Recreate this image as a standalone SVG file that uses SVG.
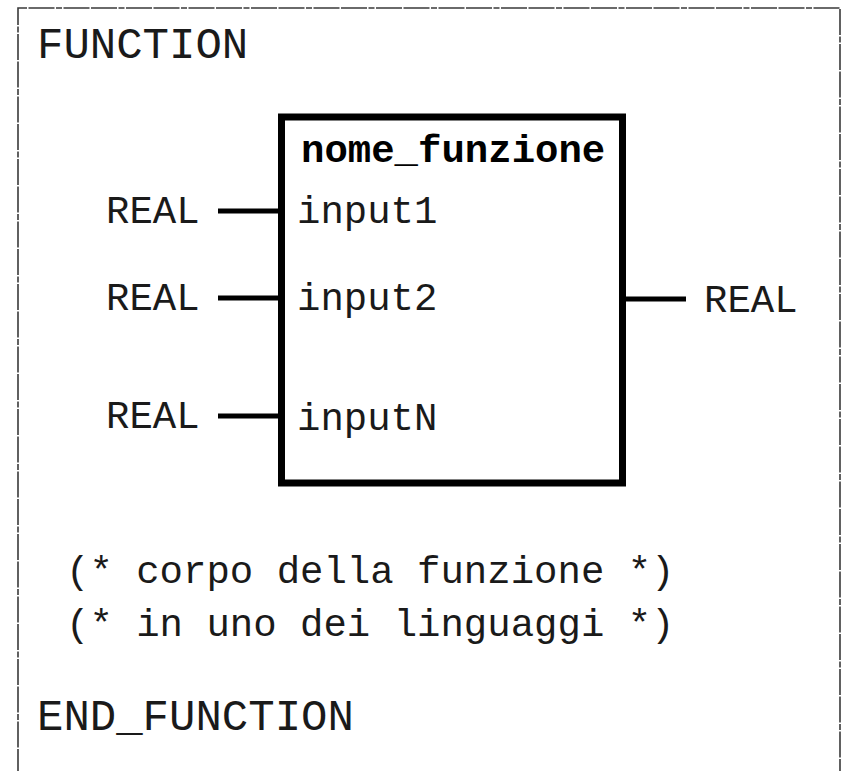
<svg xmlns="http://www.w3.org/2000/svg" width="842" height="771" viewBox="0 0 842 771">
<style>
.t{font-family:"Liberation Mono","Courier New",monospace;fill:#1a1a1a}
.big{font-size:44px}
.n{font-size:39px}
.b{font-size:39px;font-weight:bold;fill:#000}
.frame{fill:none;stroke:#3a3a3a;stroke-width:1.6;stroke-dasharray:26 1.5 26 1.5 6 1.5}
.wire{stroke:#000;stroke-width:5;fill:none}
</style>
<rect width="842" height="771" fill="#fff"/>
<path class="frame" d="M18,775 V8 H840 V775"/>
<g id="header"><text class="t big" x="37" y="58">FUNCTION</text></g>
<g id="block">
<rect x="281.5" y="117" width="341" height="366" fill="none" stroke="#000" stroke-width="7"/>
<text class="t b" x="301" y="162">nome_funzione</text>
<text class="t n" x="297" y="223">input1</text>
<text class="t n" x="297" y="310">input2</text>
<text class="t n" x="297" y="430">inputN</text>
</g>
<g id="in1"><text class="t n" x="106" y="223">REAL</text></g>
<g id="in2"><text class="t n" x="106" y="310">REAL</text></g>
<g id="inN"><text class="t n" x="106" y="428">REAL</text></g>
<g id="out"><text class="t n" x="704" y="312">REAL</text></g>
<g id="connectors">
<line class="wire" x1="218" y1="211" x2="282" y2="211"/>
<line class="wire" x1="218" y1="298" x2="282" y2="298"/>
<line class="wire" x1="218" y1="416" x2="282" y2="416"/>
<line class="wire" x1="622" y1="299" x2="686" y2="299"/>
</g>
<g id="body">
<text class="t n" x="66" y="583">(* corpo della funzione *)</text>
<text class="t n" x="66" y="636">(* in uno dei linguaggi *)</text>
</g>
<g id="footer"><text class="t big" x="37" y="730">END_FUNCTION</text></g>
</svg>
